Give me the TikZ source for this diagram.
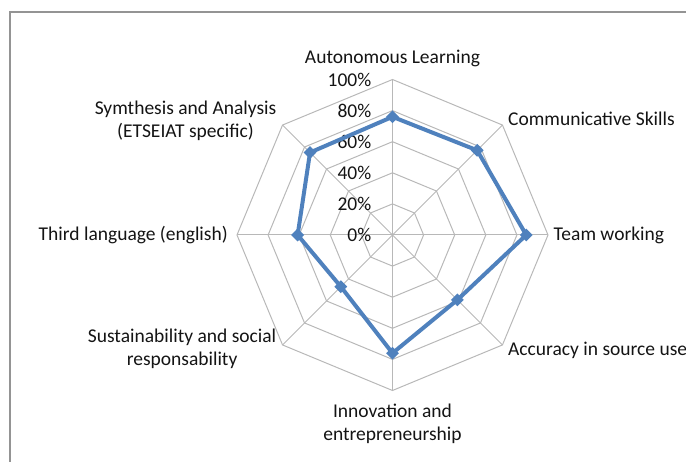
\documentclass[tikz,border=0pt]{standalone}
\usepackage{fontspec}
\setmainfont{Carlito}
\usetikzlibrary{shapes.geometric}
\definecolor{chartblue}{RGB}{79,129,189}

\begin{document}
\begin{tikzpicture}
	[
		x = 1pt, y = 1pt,
		grid/.style = {draw=black!28, line width=1pt},
		frame/.style = {draw=black!42, line width=2pt},
		series/.style = {draw=chartblue, line width=4pt, line join=round},
		marker/.style = {shape=diamond, fill=chartblue, minimum size=13pt, inner sep=0pt},
		axislabel/.style = {font=\fontsize{19.5}{23}\selectfont, text=black!92, inner sep=0pt, align=center},
		pct/.style = {axislabel, anchor=east}
	]
	
	\useasboundingbox (-392.5, -227) rectangle (293.5, 235);
	\def\R{155.5}
	
	\draw [frame] (-382.5, -227) -- (-382.5, 222.5) -- (293.5, 222.5);
	
	\foreach \k in {1, ..., 5} {
		\pgfmathsetmacro{\r}{\k*\R/5}
		\draw [grid] (0:\r) -- (45:\r) -- (90:\r) -- (135:\r) -- (180:\r) -- (225:\r) -- (270:\r) -- (315:\r) -- cycle;
	}
	\foreach \a in {0, 45, ..., 315} { \draw [grid] (0, 0) -- (\a:\R); }
	
	\foreach \k in {0, ..., 5} {
		\pgfmathtruncatemacro{\p}{20*\k}
		\node [pct] (pct\k) at (-21, {\k*\R/5}) {\p\%};
	}
	
	\node [axislabel] (auto) at (0, 177) {Autonomous Learning};
	\node [axislabel, anchor=west] (comm) at (115.5, 116) {Communicative Skills};
	\node [axislabel, anchor=west] (team) at (161, 0) {Team working};
	\node [axislabel, anchor=west] (accu) at (115.5, -115) {Accuracy in source use};
	\node [axislabel] (inno) at (0, -188.5) {Innovation and\\entrepreneurship};
	\node [axislabel, anchor=east] (sust) at (-116, -114) {Sustainability and social\\responsability};
	\node [axislabel, anchor=east] (lang) at (-164.5, 0) {Third language (english)};
	\node [axislabel, anchor=east] (synt) at (-116, 114) {Symthesis and Analysis\\(ETSEIAT specific)};
	
	\foreach \v [count=\i] in {0.76, 0.77, 0.86, 0.59, 0.76, 0.47, 0.61, 0.75} {
		\coordinate (d\i) at ({90 - 45*(\i - 1)}:{\v*\R});
	}
	\draw [series] (d1) -- (d2) -- (d3) -- (d4) -- (d5) -- (d6) -- (d7) -- (d8) -- cycle;
	\foreach \i in {1, ..., 8} { \node [marker] (m\i) at (d\i) {}; }
\end{tikzpicture}
\end{document}
